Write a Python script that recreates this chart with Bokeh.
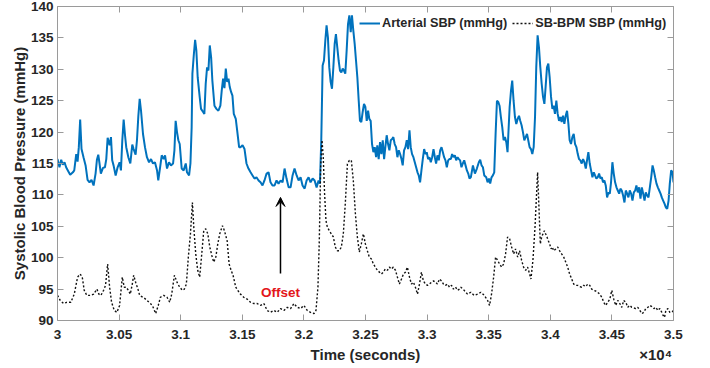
from bokeh.plotting import figure
from bokeh.models import (LinearAxis, FixedTicker, Legend, LegendItem, Label,
                          Arrow, VeeHead, Range1d, ColumnDataSource)
from bokeh.embed import file_html
from bokeh.resources import INLINE

# ---------------- data ----------------
x_ticks = [30000, 30500, 31000, 31500, 32000, 32500, 33000, 33500, 34000, 34500, 35000]
x_tick_labels = ["3", "3.05", "3.1", "3.15", "3.2", "3.25", "3.3", "3.35", "3.4", "3.45", "3.5"]
y_ticks = [90, 95, 100, 105, 110, 115, 120, 125, 130, 135, 140]
x_title = "Time (seconds)"
x_exponent = "\u00d710\u2074"
y_title = "Systolic Blood Pressure (mmHg)"

art_t = [30000, 30016, 30030, 30043, 30057, 30070, 30084, 30103, 30125, 30136, 30152, 30163, 30173, 30184,
         30195, 30211, 30228, 30244, 30260, 30276, 30293, 30309, 30320, 30331, 30341, 30352, 30369, 30385,
         30396, 30407, 30423, 30434, 30444, 30455, 30472, 30488, 30504, 30515, 30526, 30537, 30547, 30558,
         30575, 30591, 30607, 30618, 30634, 30645, 30656, 30667, 30678, 30694, 30710, 30726, 30743, 30759,
         30775, 30791, 30808, 30818, 30835, 30846, 30862, 30873, 30889, 30905, 30921, 30938, 30949, 30959,
         30970, 30981, 30992, 31008, 31024, 31041, 31051, 31068, 31079, 31089, 31095, 31106, 31117, 31127,
         31138, 31154, 31165, 31182, 31192, 31203, 31214, 31225, 31236, 31247, 31257, 31274, 31290, 31306,
         31322, 31333, 31344, 31355, 31366, 31377, 31388, 31398, 31409, 31420, 31431, 31447, 31458, 31474,
         31485, 31502, 31518, 31534, 31550, 31567, 31583, 31599, 31615, 31632, 31648, 31664, 31680, 31697,
         31713, 31729, 31745, 31762, 31778, 31794, 31811, 31827, 31843, 31859, 31876, 31892, 31908, 31924,
         31941, 31957, 31973, 31989, 32006, 32022, 32038, 32054, 32071, 32087, 32103, 32119, 32130, 32141,
         32152, 32163, 32174, 32184, 32195, 32206, 32217, 32228, 32239, 32250, 32260, 32271, 32282, 32293,
         32304, 32315, 32325, 32336, 32347, 32358, 32369, 32380, 32390, 32401, 32412, 32423, 32434, 32445,
         32455, 32466, 32477, 32488, 32499, 32510, 32521, 32531, 32542, 32553, 32564, 32575, 32586, 32596,
         32607, 32618, 32629, 32640, 32651, 32661, 32672, 32683, 32694, 32705, 32716, 32726, 32737, 32748,
         32759, 32770, 32781, 32792, 32802, 32813, 32824, 32835, 32846, 32857, 32867, 32878, 32889, 32900,
         32911, 32922, 32932, 32943, 32954, 32965, 32976, 32987, 32997, 33008, 33019, 33030, 33041, 33052,
         33063, 33073, 33084, 33095, 33106, 33117, 33128, 33138, 33149, 33160, 33171, 33182, 33193, 33203,
         33214, 33225, 33236, 33247, 33258, 33268, 33279, 33290, 33301, 33312, 33323, 33334, 33344,
         33355, 33372, 33388, 33404, 33420, 33431, 33442, 33453, 33464, 33480, 33491, 33502, 33512, 33523,
         33534, 33545, 33556, 33567, 33578, 33588, 33599, 33610, 33621, 33632, 33643, 33653, 33659, 33670,
         33681, 33691, 33702, 33713, 33724, 33735, 33746, 33756, 33767, 33778, 33789, 33800, 33811, 33821,
         33832, 33843, 33854, 33865, 33876, 33886, 33897, 33908, 33919, 33930, 33941, 33952, 33962, 33973,
         33984, 33995, 34006, 34017, 34027, 34038, 34049, 34060, 34071, 34082, 34092, 34103, 34114, 34125,
         34136, 34147, 34157, 34168, 34179, 34190, 34201, 34212, 34223, 34233, 34244, 34255, 34266, 34277,
         34288, 34298, 34309, 34320, 34331, 34342, 34353, 34363, 34374, 34385, 34396, 34407, 34418, 34428,
         34439, 34450, 34461, 34472, 34483, 34493, 34504, 34515, 34526, 34537, 34548, 34559, 34569, 34580,
         34591, 34602, 34613, 34624, 34634, 34645, 34656, 34667, 34678, 34689, 34699, 34710, 34721, 34732,
         34743, 34754, 34765, 34775, 34786, 34797, 34808, 34819, 34830, 34840, 34851, 34862, 34873, 34884,
         34895, 34905, 34916, 34927, 34938, 34949, 34960, 34970, 34981, 34992, 35000]
art_v = [115.7, 114.4, 115.6, 114.8, 115.2, 114.4, 113.9, 113.2, 113.6, 113.9, 116.5, 115.3, 117.6, 122.0,
         117.3, 116.0, 114.7, 112.4, 112.0, 112.4, 111.5, 113.4, 115.6, 116.4, 115.0, 113.4, 114.3, 114.4,
         115.7, 119.1, 117.9, 119.2, 115.5, 114.7, 113.1, 114.4, 115.2, 113.9, 118.7, 122.0, 119.7, 117.6,
         116.0, 115.0, 118.0, 117.3, 116.4, 118.7, 122.5, 125.3, 123.4, 119.7, 117.6, 116.0, 115.2, 115.7,
         115.0, 115.2, 113.9, 112.3, 114.7, 116.3, 115.7, 116.3, 114.2, 115.2, 114.7, 115.0, 117.1, 121.8,
         120.0, 118.7, 118.1, 114.2, 113.9, 115.0, 113.6, 113.1, 115.0, 120.8, 129.3, 132.2, 134.7, 133.0,
         128.7, 125.6, 123.7, 123.2, 122.9, 127.7, 130.3, 129.8, 133.8, 131.9, 128.2, 124.2, 123.7, 123.4,
         124.2, 126.6, 128.5, 127.0, 130.1, 128.0, 128.5, 127.2, 126.4, 125.8, 122.9, 122.1, 120.3, 117.6,
         117.6, 117.9, 117.3, 115.0, 114.2, 113.6, 113.1, 112.6, 112.8, 112.3, 112.0, 111.5, 112.3, 113.4,
         113.6, 112.0, 111.5, 111.5, 112.3, 111.8, 112.3, 112.0, 114.2, 112.6, 111.2, 111.2, 113.1, 114.2,
         113.1, 112.3, 112.8, 111.5, 111.0, 112.3, 112.8, 112.0, 112.6, 112.3, 111.2, 112.3, 111.8, 118.7,
         130.6, 131.4, 134.6, 137.0, 135.1, 130.3, 128.0, 126.9, 130.3, 134.1, 135.6, 133.5, 131.4, 129.8,
         129.5, 130.1, 129.8, 129.3, 133.0, 137.2, 138.6, 135.9, 138.6, 136.2, 134.1, 131.4, 128.7, 125.0,
         121.8, 121.6, 123.2, 124.5, 124.0, 121.8, 123.4, 122.1, 121.8, 118.1, 116.8, 117.6, 116.0, 117.9,
         115.7, 118.4, 116.5, 118.7, 115.7, 117.6, 119.5, 118.1, 117.1, 118.7, 118.9, 119.2, 118.1, 117.6,
         116.0, 117.1, 116.5, 115.7, 114.7, 117.1, 117.6, 118.7, 117.3, 120.3, 117.6, 116.5, 116.0, 115.2,
         114.4, 113.6, 113.1, 112.0, 113.9, 115.7, 117.3, 116.5, 116.8, 115.7, 116.0, 115.2, 116.0, 117.3,
         116.0, 115.0, 116.3, 115.5, 117.1, 117.6, 116.8, 116.0, 115.5, 114.4, 115.5, 115.7, 115.7, 116.5,
         116.0, 116.3, 115.5, 116.0, 115.7, 115.5, 114.4, 115.0, 115.5, 114.7, 113.9, 113.4, 112.6,
         112.8, 114.7, 113.4, 114.2, 115.2, 115.6, 114.7, 114.4, 113.1, 112.8, 112.0, 112.6, 111.8, 112.8,
         113.1, 113.6, 119.7, 125.0, 124.8, 124.2, 122.4, 120.8, 118.7, 119.2, 118.4, 116.8, 119.5, 124.0,
         126.6, 128.2, 125.0, 122.4, 121.3, 122.1, 122.6, 121.8, 121.1, 120.0, 118.7, 119.2, 119.7, 118.7,
         117.6, 117.3, 116.5, 117.6, 122.4, 130.3, 135.4, 133.5, 130.3, 127.7, 125.6, 124.5, 127.2, 130.3,
         130.9, 128.7, 125.6, 123.7, 124.2, 122.9, 125.0, 122.9, 121.8, 122.4, 121.6, 122.6, 121.3, 122.6,
         123.4, 121.3, 118.7, 118.1, 119.2, 119.7, 118.1, 117.6, 116.5, 115.7, 115.5, 115.0, 115.7, 115.2,
         114.2, 115.5, 116.8, 115.0, 113.9, 112.8, 113.6, 113.1, 112.6, 112.8, 113.4, 112.6, 112.8, 112.0,
         112.3, 111.5, 109.6, 110.4, 110.2, 112.0, 115.2, 113.4, 112.0, 111.2, 110.7, 110.2, 111.0, 110.7,
         109.9, 108.8, 110.7, 110.2, 109.6, 110.7, 110.2, 109.1, 110.4, 110.7, 111.5, 110.4, 111.2, 109.4,
         111.2, 110.2, 109.1, 110.4, 109.9, 109.6, 111.2, 112.8, 114.7, 113.9, 112.8, 111.8, 111.2, 110.7,
         110.2, 109.6, 109.1, 108.6, 108.0, 107.8, 109.1, 111.8, 113.9, 113.6, 112.0]

bpm_t = [30000, 30022, 30049, 30076, 30108, 30136, 30163, 30184, 30201, 30217, 30238, 30271, 30293, 30320,
         30336, 30352, 30374, 30390, 30407, 30423, 30439, 30461, 30482, 30504, 30526, 30542, 30558, 30575,
         30591, 30607, 30618, 30634, 30656, 30667, 30694, 30715, 30743, 30770, 30797, 30818, 30835, 30862,
         30889, 30911, 30927, 30949, 30970, 30992, 31014, 31030, 31046, 31062, 31079, 31095, 31106, 31122,
         31138, 31154, 31171, 31187, 31203, 31220, 31236, 31252, 31268, 31285, 31301, 31317, 31339, 31355,
         31377, 31393, 31409, 31425, 31447, 31463,
         31485, 31512, 31540, 31567, 31594, 31621, 31648, 31675, 31702, 31729, 31756, 31783, 31811, 31838,
         31865, 31892, 31919, 31946, 31973, 32000, 32027, 32054, 32082, 32098, 32114, 32125, 32136, 32147,
         32157, 32168, 32179, 32190, 32206, 32222, 32239, 32255, 32271, 32287, 32304, 32320, 32336, 32353,
         32369, 32385, 32401, 32418, 32434, 32450, 32466, 32483, 32499, 32515, 32531, 32548, 32564, 32580,
         32596, 32613, 32629, 32645, 32661, 32678, 32694, 32710, 32726, 32743, 32759, 32775, 32792, 32808,
         32824, 32840, 32857, 32873, 32889, 32905, 32922, 32938, 32954, 32970, 32987, 33003, 33019, 33035,
         33052, 33068, 33084, 33100, 33117, 33133, 33149, 33165, 33182, 33198, 33214, 33231, 33247, 33263,
         33274, 33301, 33328, 33355, 33382, 33410, 33437, 33464, 33491, 33507, 33523, 33540, 33556, 33572,
         33588, 33605, 33621, 33637, 33653, 33670, 33686, 33702, 33718, 33735, 33751, 33767, 33783, 33800,
         33816, 33832, 33843, 33859, 33876, 33886, 33897, 33908, 33919, 33930, 33941, 33952, 33962, 33973,
         33984, 33995, 34006, 34017, 34027, 34044, 34060, 34076, 34092, 34109, 34125, 34141, 34157, 34174,
         34190, 34206, 34223, 34239, 34255, 34271, 34288, 34304, 34320, 34336, 34353, 34369, 34385, 34401,
         34418, 34434, 34450, 34466, 34483, 34499, 34515, 34531, 34548, 34564, 34580, 34596, 34613, 34629,
         34645, 34661, 34678, 34694, 34710, 34727, 34743, 34759, 34775, 34792, 34808, 34824, 34840, 34857,
         34873, 34889, 34905, 34916, 34927, 34938, 34954, 34970, 34987, 35000]
bpm_v = [94.0, 93.2, 92.7, 92.9, 92.9, 94.2, 96.9, 97.4, 96.9, 94.8, 94.0, 94.0, 94.2, 95.0,
         94.2, 94.0, 94.8, 95.6, 99.0, 95.3, 92.9, 91.6, 91.3, 92.4, 96.9, 95.3, 95.3, 94.8,
         94.2, 95.8, 97.2, 96.1, 94.8, 94.0, 93.7, 93.4, 92.9, 92.4, 91.1, 92.4, 93.7, 94.0,
         93.7, 92.9, 94.2, 97.2, 96.1, 95.3, 94.8, 95.0, 95.8, 100.1, 103.8, 108.8, 104.9, 100.6,
         98.0, 96.9, 100.6, 104.3, 104.6, 103.8, 101.7, 100.4, 99.3, 100.1, 102.2, 103.8, 105.1, 104.3,
         102.7, 99.0, 98.0, 97.2, 95.3, 94.8,
         94.2, 93.7, 93.4, 92.9, 92.7, 92.7, 92.4, 92.7, 91.6, 91.3, 91.6, 91.3, 91.9, 91.6,
         92.1, 91.9, 92.7, 92.1, 91.9, 92.4, 91.6, 91.3, 91.1, 91.6, 95.3, 102.7, 114.4, 118.7,
         116.0, 110.2, 105.9, 104.9, 104.3, 103.8, 103.3, 101.7, 101.1, 101.1, 101.7, 103.8, 108.6, 114.9,
         115.5, 115.5, 112.3, 107.0, 103.3, 100.9, 102.2, 103.8, 102.2, 101.1, 100.1, 99.8, 99.0, 98.5,
         98.0, 97.7, 97.4, 97.7, 98.2, 98.0, 98.5, 98.2, 98.5, 98.0, 96.9, 95.8, 96.6, 97.4,
         97.7, 98.5, 96.9, 95.8, 96.1, 95.3, 94.2, 95.8, 97.7, 96.3, 95.8, 95.6, 95.8, 96.1,
         96.3, 96.1, 95.8, 96.6, 96.3, 95.8, 95.6, 95.8, 95.3, 95.6, 95.0, 95.3, 94.8, 95.0,
         95.3, 94.8, 94.2, 94.5, 94.0, 94.2, 94.5, 94.0, 93.2, 92.4, 94.2, 96.9, 100.1, 99.6,
         99.0, 98.5, 99.0, 100.6, 103.3, 103.0, 101.7, 100.6, 101.4, 100.1, 101.1, 99.6, 98.5, 98.0,
         98.5, 97.4, 96.6, 99.6, 104.9, 109.1, 113.6, 108.0, 102.2, 103.3, 103.8, 104.3, 103.8, 103.3,
         102.7, 102.2, 101.4, 101.7, 101.1, 101.4, 101.7, 101.1, 100.6, 100.1, 99.3, 98.5, 97.4, 96.6,
         95.8, 95.6, 95.6, 95.4, 95.3, 95.6, 95.4, 95.8, 95.6, 95.0, 94.8, 94.7, 94.5, 94.2,
         93.7, 92.9, 92.4, 92.9, 93.4, 94.8, 93.4, 92.4, 93.2, 92.7, 92.1, 93.2, 92.9, 92.1,
         92.4, 92.1, 92.0, 91.9, 92.1, 91.6, 91.1, 91.3, 91.9, 92.1, 92.4, 92.2, 91.9, 92.1,
         91.6, 91.9, 91.3, 90.8, 90.5, 91.6, 91.9, 91.3, 91.3, 91.6]

series_names = ["Arterial SBP (mmHg)", "SB-BPM SBP (mmHg)"]

# annotation (arrow + text), data coordinates
offset_t = 31810
offset_arrow_from = 97.5
offset_arrow_to = 109.6
offset_text_v = 94.5

# positions (data x) of the two texts under the tick labels
x_title_at = 32500
x_exponent_at = 34855

# ---------------- figure ----------------
FONT = "Liberation Sans"
TXT = "#262626"
AX = "#9a9a9a"

p = figure(width=710, height=368, output_backend="svg", toolbar_location=None,
           x_range=Range1d(30000, 35000), y_range=Range1d(90, 140),
           min_border_left=57, min_border_right=37, min_border_top=6, min_border_bottom=48,
           background_fill_color="white", border_fill_color="white")
p.outline_line_color = None
p.grid.visible = False


def style_axis(ax, show_labels):
    ax.axis_line_color = AX
    ax.axis_line_width = 1
    ax.major_tick_line_color = AX
    ax.major_tick_in = 6
    ax.major_tick_out = 0
    ax.minor_tick_line_color = None
    ax.major_label_text_font = FONT
    ax.major_label_text_font_style = "bold"
    ax.major_label_text_color = TXT
    ax.major_label_text_font_size = "13.5px" if show_labels else "0px"
    ax.axis_label_text_font = FONT
    ax.axis_label_text_font_style = "bold"
    ax.axis_label_text_color = TXT
    ax.axis_label_text_font_size = "15px"


xa = p.xaxis[0]
xa.ticker = FixedTicker(ticks=x_ticks)
xa.major_label_overrides = {t: l for t, l in zip(x_ticks, x_tick_labels)}
style_axis(xa, True)
xa.major_label_standoff = 9

# second axis below: carries the axis title and the x10^4 multiplier
xb = LinearAxis(ticker=FixedTicker(ticks=[x_title_at, x_exponent_at]))
xb.major_label_overrides = {x_title_at: x_title, x_exponent_at: x_exponent}
xb.axis_line_color = None
xb.major_tick_line_color = None
xb.minor_tick_line_color = None
xb.major_label_standoff = -2
xb.major_label_text_font = FONT
xb.major_label_text_font_style = "bold"
xb.major_label_text_color = TXT
xb.major_label_text_font_size = "15px"
p.add_layout(xb, "below")

ya = p.yaxis[0]
ya.ticker = FixedTicker(ticks=y_ticks)
ya.axis_label = y_title
style_axis(ya, True)
ya.major_label_standoff = 4
ya.axis_label_standoff = 0

top = LinearAxis(ticker=FixedTicker(ticks=x_ticks))
style_axis(top, False)
top.major_label_standoff = 0
top.major_label_overrides = {t: "" for t in x_ticks}
p.add_layout(top, "above")

right = LinearAxis(ticker=FixedTicker(ticks=y_ticks))
style_axis(right, False)
right.major_label_standoff = 0
right.major_label_overrides = {t: "" for t in y_ticks}
p.add_layout(right, "right")

src_a = ColumnDataSource(dict(t=art_t, v=art_v))
src_b = ColumnDataSource(dict(t=bpm_t, v=bpm_v))
r_a = p.line("t", "v", source=src_a, line_color="#0072BD", line_width=2)
r_b = p.line("t", "v", source=src_b, line_color="#111111", line_width=1.4, line_dash="2 2")

legend = Legend(items=[LegendItem(label=series_names[0], renderers=[r_a]),
                       LegendItem(label=series_names[1], renderers=[r_b])],
                orientation="horizontal", location=(302, 287),
                padding=0, margin=0, spacing=5, label_standoff=2,
                glyph_width=21, glyph_height=20, label_height=20,
                label_text_font=FONT, label_text_font_style="bold",
                label_text_font_size="12.7px", label_text_color=TXT,
                border_line_alpha=0, background_fill_alpha=0)
p.add_layout(legend)

p.add_layout(Arrow(end=VeeHead(size=9, fill_color="black", line_color="black", line_width=1),
                   x_start=offset_t, y_start=offset_arrow_from,
                   x_end=offset_t, y_end=offset_arrow_to,
                   line_color="black", line_width=1.5))
p.add_layout(Label(x=offset_t, y=offset_text_v, text="Offset", text_align="center",
                   text_baseline="middle", text_font=FONT, text_font_style="bold",
                   text_font_size="13.5px", text_color="#e3161b"))

open("out.html", "w").write(file_html(p, INLINE))
